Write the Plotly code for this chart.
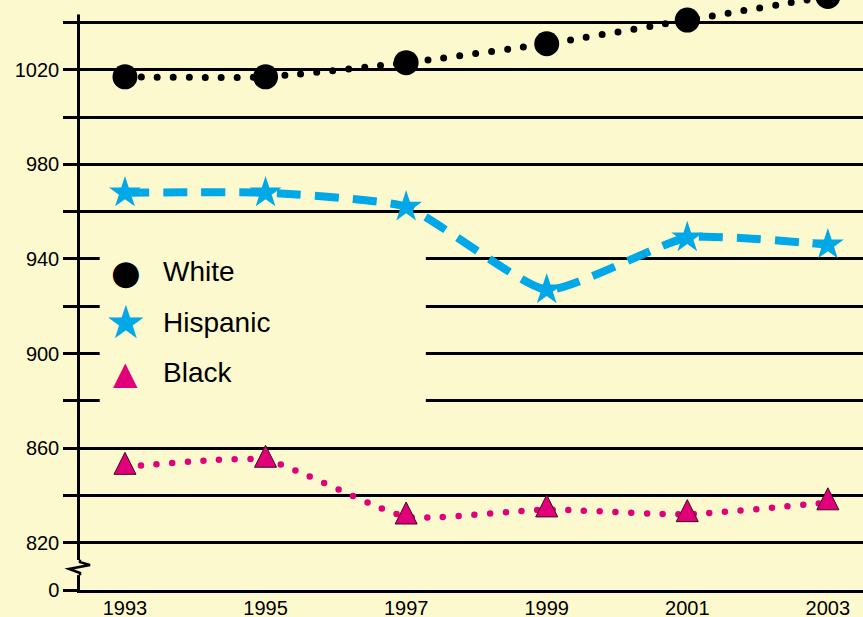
import plotly.graph_objects as go

# Survey years and average scores by group
years = [1993, 1995, 1997, 1999, 2001, 2003]
white = [1017, 1017, 1023, 1031, 1041, 1051]
hispanic = [968, 968, 962, 927, 949, 946]
black = [852, 855, 831, 834, 832, 837]

year_labels = [str(y) for y in years]

# The value axis is broken below 820; its baseline carries the label "0"
y_tick_vals = [800, 820, 840, 860, 880, 900, 920, 940, 960, 980, 1000, 1020, 1040]
y_tick_text = ["0", "820", "", "860", "", "900", "", "940", "", "980", "", "1020", ""]

BG = "#FDF9CF"
BLUE = "#00A8E8"
MAGENTA = "#E1007A"
FONT = "Liberation Sans, Arial, sans-serif"
SMOOTH = 0.5

fig = go.Figure()

# connecting curves
fig.add_trace(go.Scatter(
    x=years, y=white, mode="lines", showlegend=False, hoverinfo="skip",
    line=dict(color="black", width=7, dash="0px,16px", shape="spline", smoothing=SMOOTH)))
fig.add_trace(go.Scatter(
    x=years, y=hispanic, mode="lines", showlegend=False, hoverinfo="skip",
    line=dict(color=BLUE, width=8, dash="24px,14px", shape="spline", smoothing=SMOOTH)))
fig.add_trace(go.Scatter(
    x=years, y=black, mode="lines", showlegend=False, hoverinfo="skip",
    line=dict(color=MAGENTA, width=6.5, dash="0px,15.7px", shape="spline", smoothing=SMOOTH)))

# point markers (clipped at the panel edge like the curves)
fig.add_trace(go.Scatter(
    x=years, y=white, mode="markers", name="White", showlegend=False,
    marker=dict(symbol="circle", size=25, color="black")))
fig.add_trace(go.Scatter(
    x=years, y=hispanic, mode="markers", name="Hispanic", showlegend=False,
    marker=dict(symbol="star", size=24, color=BLUE, line=dict(width=0))))
# upright triangle centred on its point: a down arrow turned over and pushed back
fig.add_trace(go.Scatter(
    x=years, y=black, mode="markers", name="Black", showlegend=False,
    marker=dict(symbol="arrow-down", angle=180, standoff=14.7, size=22, color=MAGENTA,
                line=dict(width=1, color="#3a0a20"))))

x0, x1 = 1992.36, 2003.5
y0, y1 = 800, 1049.5

shapes = [
    # plain panel behind the key
    dict(type="rect", xref="x", yref="y", x0=1992.64, x1=1997.28, y0=870, y1=950,
         fillcolor=BG, line=dict(width=0), layer="between"),
    # value axis starts a little below the top edge
    dict(type="rect", xref="paper", yref="paper", x0=-0.012, x1=0.012, y0=0.9755, y1=1.02,
         fillcolor=BG, line=dict(width=0), layer="above"),
    # gap in the value axis
    dict(type="rect", xref="paper", yref="y", x0=-0.006, x1=0.006, y0=806.3, y1=812.7,
         fillcolor=BG, line=dict(width=0), layer="above"),
    dict(type="path", xref="paper", yref="y",
         path="M 0,812.8 L 0,811.8 L 0.0128,810.6 L -0.014,808.9 L 0,807.2 L 0,806.2",
         line=dict(color="black", width=2.5), layer="above"),
]

# key
key_rows = [0.5390, 0.4542, 0.3678]
key_glyphs = [("\u25CF", "black", 34), ("\u2605", BLUE, 46), ("\u25B2", MAGENTA, 32)]
annotations = []
for name, yy, (g, c, s) in zip(["White", "Hispanic", "Black"], key_rows, key_glyphs):
    annotations.append(dict(text=g, x=0.0587, y=yy, xref="paper", yref="paper",
                            xanchor="center", yanchor="middle", showarrow=False,
                            font=dict(family="DejaVu Sans", size=s, color=c)))
    annotations.append(dict(text=name, x=0.104, y=yy, xref="paper", yref="paper",
                            xanchor="left", yanchor="middle", showarrow=False,
                            font=dict(family=FONT, size=28, color="black")))

fig.update_layout(
    width=863, height=617,
    margin=dict(l=80, r=0, t=0, b=27, autoexpand=False),
    paper_bgcolor=BG, plot_bgcolor=BG,
    showlegend=False,
    shapes=shapes,
    annotations=annotations,
    xaxis=dict(range=[x0, x1], tickvals=years, ticktext=year_labels, automargin=False,
               showgrid=False, zeroline=False, showline=True, linecolor="black",
               linewidth=2.5, ticks="", ticklabelstandoff=-2,
               tickfont=dict(family=FONT, size=20, color="black")),
    yaxis=dict(range=[y0, y1], tickvals=y_tick_vals, ticktext=y_tick_text, automargin=False,
               showgrid=True, gridcolor="black", gridwidth=2.5, zeroline=False,
               showline=True, linecolor="black", linewidth=2.5,
               ticks="outside", ticklen=14, tickwidth=2.5, tickcolor="black",
               tickfont=dict(family=FONT, size=20, color="black")),
)

# round caps turn the zero-length dashes into dots
post = """
var gd = document.getElementById('{plot_id}');
function roundDots(){
  gd.querySelectorAll('path.js-line').forEach(function(p){
    var d = (p.style.strokeDasharray || '').trim();
    if (d.indexOf('0px') === 0 || d.indexOf('0,') === 0 || d.indexOf('0 ') === 0) {
      p.style.strokeLinecap = 'round';
    }
  });
}
roundDots();
if (gd.on) { gd.on('plotly_afterplot', roundDots); }
"""

fig.write_html("out.html", post_script=post)
